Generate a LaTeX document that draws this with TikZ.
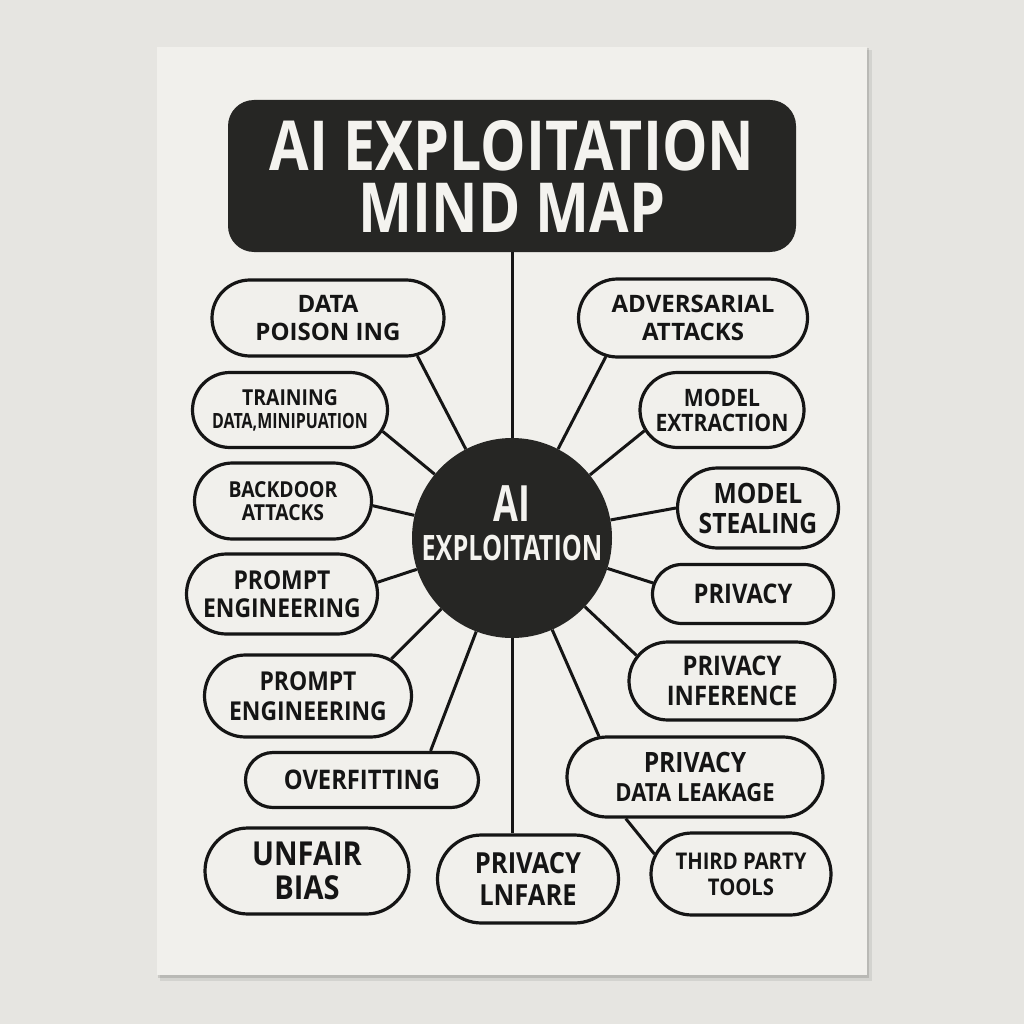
\documentclass[tikz,border=0pt]{standalone}
\usepackage{fontspec}
\setmainfont{Open Sans}
\newfontfamily\wideface{Open Sans}
\newfontfamily\boxface{Open Sans}[FakeStretch=0.88]
\newfontfamily\slimface{Open Sans}[FakeStretch=0.76]
\newfontfamily\titleface{Open Sans}[FakeStretch=0.83]
\newfontfamily\hubface{Open Sans}[FakeStretch=0.72]
\usepackage{tikz}
\usetikzlibrary{shapes.misc}
\definecolor{wall}{HTML}{E6E5E1}
\definecolor{paper}{HTML}{F1F0EC}
\definecolor{ink}{HTML}{262624}
\definecolor{chalk}{HTML}{F4F3EF}
\definecolor{lead}{HTML}{151515}
\newcommand{\sz}[2]{\fontsize{#1}{#2}\selectfont}

\tikzset{
	box/.style={
		rounded rectangle,
		draw=lead,
		fill=paper,
		line width=3.2pt,
		text=lead,
		align=center,
		inner sep=0pt,
	},
	link/.style={
		draw=lead,
		line width=3pt,
	},
}

\begin{document}
\begin{tikzpicture}[x=1pt,y=-1pt]
\useasboundingbox (0,0) rectangle (1024,1024);
\fill[wall] (0,0) rectangle (1024,1024);
\fill[black,opacity=0.08] (160,50) rectangle (872,981);
\fill[black,opacity=0.12] (158,48) rectangle (869,978);
\fill[paper] (157,47) rectangle (867,975);

\node[
	rectangle,
	rounded corners=26pt,
	fill=ink,
	minimum width=568pt,
	minimum height=152pt,
	inner sep=0pt,
	text=chalk,
	align=center,
	font=\titleface\bfseries\sz{69}{62},
] (title) at (512,176) {AI EXPLOITATION\\MIND MAP};

\node[circle, fill=ink, minimum size=200pt, inner sep=0pt] (hub) at (512,538) {};
\node[text=chalk, align=center, inner sep=0pt,
	font=\hubface\bfseries\sz{35}{39}] (hubtxt) at (512,523.5)
	{{\sz{50}{50}AI}\\EXPLOITATION};

% left side
\node[box, minimum width=232pt, minimum height=76pt, font=\wideface\bfseries\sz{24}{28}]
	(dp) at (328,318) {DATA\\POISON ING};
\node[box, minimum width=195pt, minimum height=75pt, font=\boxface\bfseries\sz{22}{23}]
	(tr) at (290,410) {TRAINING\\{\slimface\sz{21}{23}DATA,MINIPUATION}};
\node[box, minimum width=177pt, minimum height=76pt, font=\boxface\bfseries\sz{22}{23}]
	(bd) at (283,501) {BACKDOOR\\ATTACKS};
\node[box, minimum width=191pt, minimum height=80pt, font=\boxface\bfseries\sz{26}{28}]
	(pe) at (282,594) {PROMPT\\ENGINEERING};
\node[box, minimum width=207pt, minimum height=82pt, font=\boxface\bfseries\sz{26}{30}]
	(pg) at (308,696) {PROMPT\\ENGINEERING};
\node[box, minimum width=233pt, minimum height=55pt, font=\boxface\bfseries\sz{27}{30}]
	(of) at (362,780) {OVERFITTING};
\node[box, minimum width=204pt, minimum height=86pt, font=\boxface\bfseries\sz{33}{34}]
	(ub) at (307,871) {UNFAIR\\BIAS};

% bottom and right side
\node[box, minimum width=181pt, minimum height=88pt, font=\boxface\bfseries\sz{29}{32}]
	(pl) at (528,879) {PRIVACY\\LNFARE};
\node[box, minimum width=180pt, minimum height=82pt, font=\boxface\bfseries\sz{23}{26}]
	(tp) at (741,874) {THIRD PARTY\\TOOLS};
\node[box, minimum width=256pt, minimum height=80pt, font=\boxface\bfseries\sz{28}{29}]
	(dl) at (695,777) {PRIVACY\\{\sz{25}{29}DATA LEAKAGE}};
\node[box, minimum width=206pt, minimum height=78pt, font=\boxface\bfseries\sz{27}{30}]
	(pi) at (732,681) {PRIVACY\\INFERENCE};
\node[box, minimum width=181pt, minimum height=59pt, font=\boxface\bfseries\sz{27}{30}]
	(pr) at (743,594) {PRIVACY};
\node[box, minimum width=161pt, minimum height=80pt, font=\boxface\bfseries\sz{28}{30}]
	(ms) at (758,508) {MODEL\\STEALING};
\node[box, minimum width=164pt, minimum height=75pt, font=\boxface\bfseries\sz{24}{25}]
	(me) at (722,410) {MODEL\\EXTRACTION};
\node[box, minimum width=229pt, minimum height=78pt, font=\wideface\bfseries\sz{24}{28}]
	(aa) at (693,318) {ADVERSARIAL\\ATTACKS};

\draw[link] (title) -- (hub);
\draw[link] (dp.-23) -- (hub);
\draw[link] (tr.-13) -- (hub);
\draw[link] (bd.-3) -- (hub);
\draw[link] (pe.7) -- (hub);
\draw[link] (pg.24) -- (hub);
\draw[link] (of.23) -- (hub);
\draw[link] (hub) -- (hub |- pl.north);
\draw[link] (dl.157) -- (hub);
\draw[link] (pi.165) -- (hub);
\draw[link] (pr.173) -- (hub);
\draw[link] (ms.west) -- (hub);
\draw[link] (me.195) -- (hub);
\draw[link] (aa.204) -- (hub);
\draw[link] (dl.-149) -- (tp.167);
\end{tikzpicture}
\end{document}
